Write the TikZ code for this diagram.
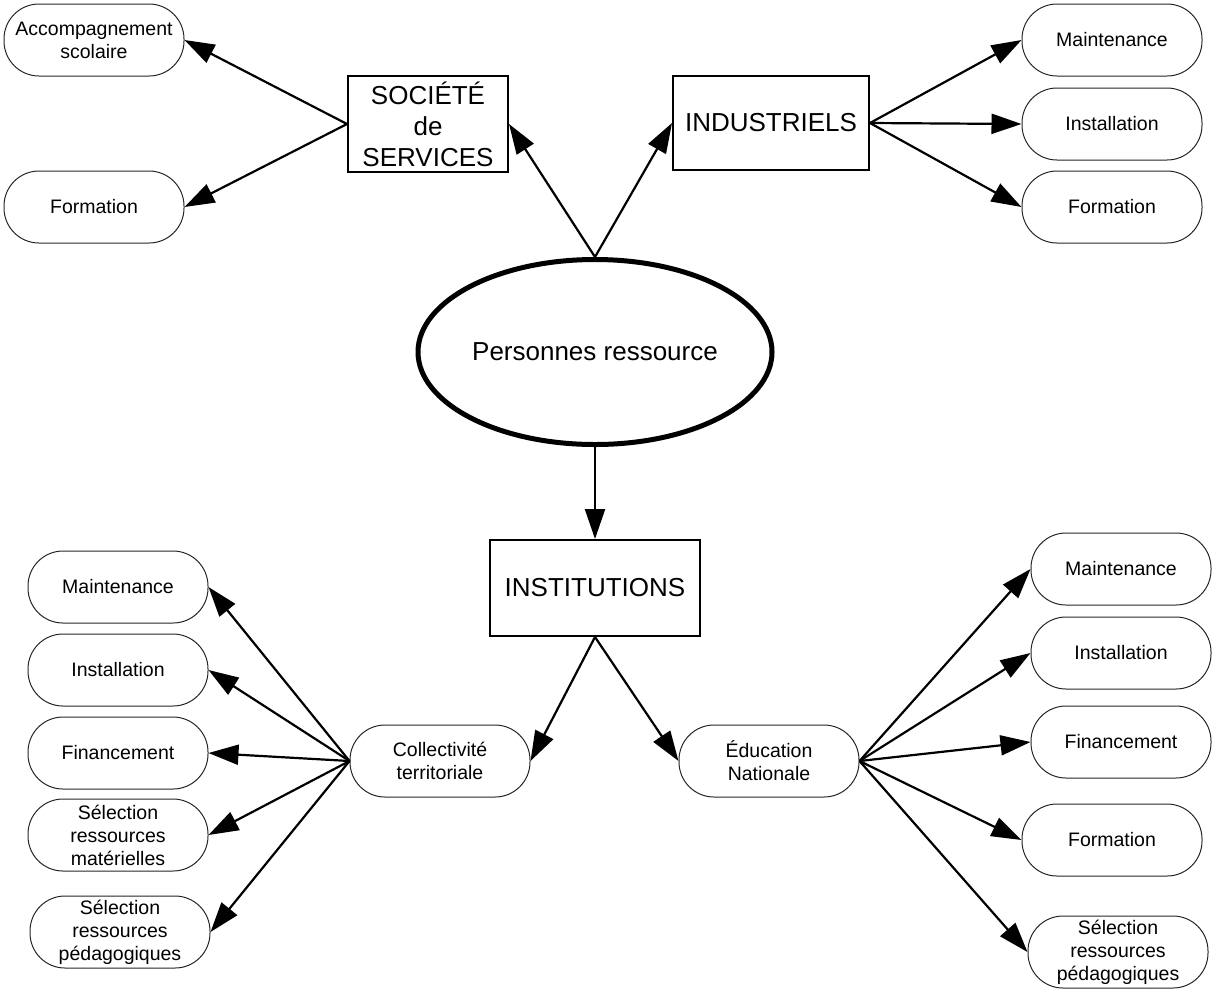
\documentclass[tikz,border=0pt]{standalone}
\usepackage{fontspec}
\setmainfont{Liberation Sans}
\usetikzlibrary{arrows.meta,shapes.geometric}
\tikzset{
  pill/.style={draw=black!85, line width=1pt, rounded corners=35pt, minimum width=180pt, minimum height=72pt, align=center, inner sep=0pt, font=\fontsize{19.5}{23}\selectfont},
  bigbox/.style={draw, line width=2pt, align=center, inner sep=0pt, font=\fontsize{26}{31}\selectfont},
  conn/.style={line width=2.2pt, -{Triangle[length=30pt,width=20pt]}}
}
\begin{document}
\begin{tikzpicture}[x=1pt,y=-1pt]
\useasboundingbox (0,0) rectangle (1214,989);
% central ellipse
\node[draw, ellipse, line width=5pt, minimum width=354pt, minimum height=185pt, inner sep=0pt, font=\fontsize{26}{31}\selectfont] (pr) at (595,352) {Personnes ressource};
% boxes
\node[bigbox, minimum width=160pt, minimum height=96pt] (soc) at (428,124) {SOCIÉTÉ\\de\\SERVICES};
\node[bigbox, minimum width=196pt, minimum height=94pt] (ind) at (771,123) {INDUSTRIELS};
\node[bigbox, minimum width=210pt, minimum height=96pt] (inst) at (595,588) {INSTITUTIONS};
% top-left pills
\node[pill] (acc) at (94,40) {Accompagnement\\scolaire};
\node[pill] (forl) at (94,207) {Formation};
% top-right pills
\node[pill] (mtr) at (1112,40) {Maintenance};
\node[pill] (itr) at (1112,124) {Installation};
\node[pill] (ftr) at (1112,207) {Formation};
% middle pills
\node[pill] (coll) at (440,761) {Collectivité\\territoriale};
\node[pill] (edu) at (769,761) {Éducation\\Nationale};
% bottom-left pills
\node[pill] (mbl) at (118,587) {Maintenance};
\node[pill] (ibl) at (118,670) {Installation};
\node[pill] (fbl) at (118,753) {Financement};
\node[pill] (sml) at (118,835) {Sélection\\ressources\\matérielles};
\node[pill] (spl) at (120,932) {Sélection\\ressources\\pédagogiques};
% bottom-right pills
\node[pill] (mbr) at (1121,569) {Maintenance};
\node[pill] (ibr) at (1121,653) {Installation};
\node[pill] (fbr) at (1121,742) {Financement};
\node[pill] (fobr) at (1112,840) {Formation};
\node[pill] (spr) at (1118,952) {Sélection\\ressources\\pédagogiques};
% connectors
\draw[conn] (pr.north) -- (soc.east);
\draw[conn] (pr.north) -- (ind.west);
\draw[conn] (pr.south) -- (inst.north);
\draw[conn] (soc.west) -- (acc.east);
\draw[conn] (soc.west) -- (forl.east);
\draw[conn] (ind.east) -- (mtr.west);
\draw[conn] (ind.east) -- (itr.west);
\draw[conn] (ind.east) -- (ftr.west);
\draw[conn] (inst.south) -- (coll.east);
\draw[conn] (inst.south) -- (edu.west);
\draw[conn] (coll.west) -- (mbl.east);
\draw[conn] (coll.west) -- (ibl.east);
\draw[conn] (coll.west) -- (fbl.east);
\draw[conn] (coll.west) -- (sml.east);
\draw[conn] (coll.west) -- (spl.east);
\draw[conn] (edu.east) -- (mbr.west);
\draw[conn] (edu.east) -- (ibr.west);
\draw[conn] (edu.east) -- (fbr.west);
\draw[conn] (edu.east) -- (fobr.west);
\draw[conn] (edu.east) -- (spr.west);
\end{tikzpicture}
\end{document}
